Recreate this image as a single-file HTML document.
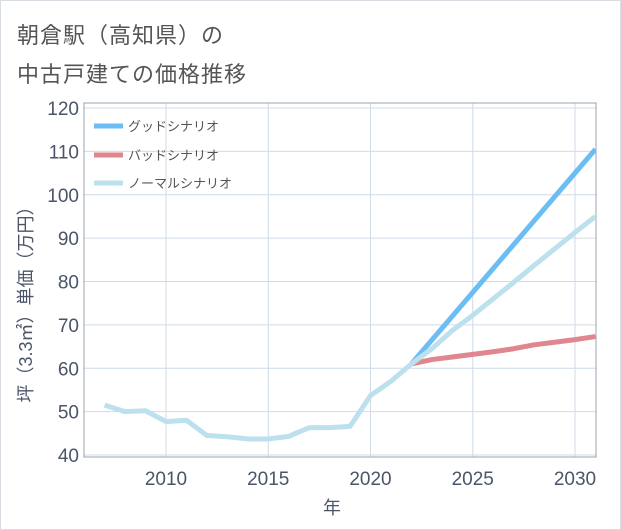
<!DOCTYPE html>
<html><head><meta charset="utf-8"><style>
body{margin:0;background:#fff;font-family:"Liberation Sans","Noto Sans CJK JP",sans-serif}
#wrap{position:relative;width:619px;height:528px;border:1px solid #d8dde3;background:#fff}
.t{position:absolute;left:16px;font-size:22px;color:#555;letter-spacing:1px}
</style></head><body>
<div id="wrap">
<div class="t" style="top:17px">朝倉駅（高知県）の</div>
<div class="t" style="top:56px">中古戸建ての価格推移</div>
<svg id="c" width="621" height="530" style="position:absolute;left:-1px;top:-1px"></svg>
</div>
<script>
const years=[2007,2008,2009,2010,2011,2012,2013,2014,2015,2016,2017,2018,2019,2020,2021,2022];
const hist=[51.5,50,50.2,47.7,48,44.5,44.2,43.7,43.7,44.3,46.3,46.3,46.6,53.7,57,61];
const fYears=[2022,2023,2024,2025,2026,2027,2028,2029,2030,2031];
const good=[61,66.5,72,77.5,83,88.5,94,99.5,105,110.5];
const normal=[61,64.5,68.7,72.2,76,79.8,83.7,87.5,91.3,95];
const bad=[61,62,62.6,63.2,63.8,64.5,65.4,66,66.6,67.3];
const yTicks=[40,50,60,70,80,90,100,110,120];
const xTicks=[2010,2015,2020,2025,2030];
const L=84,R=596,T=103,B=457;
const x=v=>166+(v-2010)*(575-166)/20;
const y=v=>455-(v-40)*(455-108)/80;
const svg=document.getElementById('c');const NS='http://www.w3.org/2000/svg';
function mk(t,a,p){const e=document.createElementNS(NS,t);for(const k in a)e.setAttribute(k,a[k]);(p||svg).appendChild(e);return e;}
yTicks.forEach(v=>{const l=mk('line',{x1:L,x2:R,y1:y(v),y2:y(v),stroke:'#cfdbe6','stroke-width':1});

const t=mk('text',{x:L-5,y:y(v)+7,'text-anchor':'end','font-size':19,fill:'#4a5568'});t.textContent=v;
});
xTicks.forEach(v=>{const l=mk('line',{x1:x(v),x2:x(v),y1:T,y2:B,stroke:'#cfdbe6','stroke-width':1});

const t=mk('text',{x:x(v),y:B+28,'text-anchor':'middle','font-size':19,fill:'#4a5568'});t.textContent=v;
});
const bx=mk('rect',{x:L,y:T,width:R-L,height:B-T,fill:'none',stroke:'#9aa5b1','stroke-width':1});

const clip=mk('clipPath',{id:'cp'});mk('rect',{x:L,y:T,width:R-L,height:B-T},clip);
function line(xs,vs,col,name){const p=mk('polyline',{points:xs.map((a,i)=>x(a)+','+y(vs[i])).join(' '),fill:'none',stroke:col,'stroke-width':5,'stroke-linejoin':'round','clip-path':'url(#cp)'});
}
line(fYears,bad,'#e0868e','bad-scenario-line');
line(fYears,good,'#6bbdf3','good-scenario-line');
line(fYears,normal,'#bde0ee','normal-scenario-line');
line(years,hist,'#bde0ee','historical-line');
const leg=[['グッドシナリオ','#6bbdf3',126],['バッドシナリオ','#e0868e',155],['ノーマルシナリオ','#bde0ee',183]];
leg.forEach(([n,c,yy])=>{const g=mk('g',{});
mk('line',{x1:94,x2:123,y1:yy,y2:yy,stroke:c,'stroke-width':5},g);
const t=mk('text',{x:128,y:yy+5,'font-size':13,fill:'#555'},g);t.textContent=n;});
const xt=mk('text',{x:332,y:514,'text-anchor':'middle','font-size':18,fill:'#4a5568'});xt.textContent='年';

const yt=mk('text',{x:0,y:0,'text-anchor':'middle','font-size':18,fill:'#4a5568',transform:'translate(32,300) rotate(-90)'});yt.textContent='坪（3.3㎡）単価（万円）';

</script>
</body></html>
